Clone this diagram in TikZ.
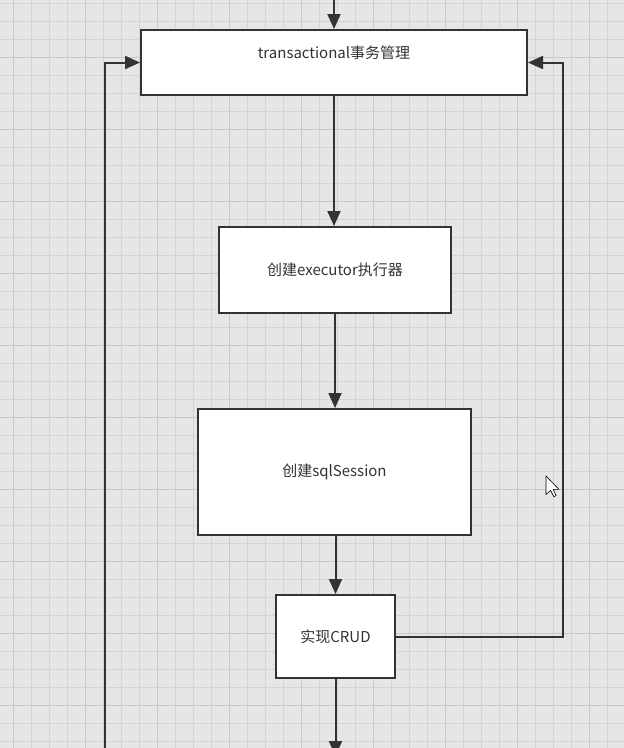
\documentclass[tikz,border=0pt]{standalone}
\usepackage{fontspec}
\setmainfont{Noto Sans CJK SC}
\usetikzlibrary{arrows.meta}
\definecolor{bg}{HTML}{E6E6E6}
\definecolor{gminor}{HTML}{D4D4D4}
\definecolor{gmajor}{HTML}{C8C8C8}
\definecolor{ink}{HTML}{333333}
\tikzset{
  box/.style={draw=ink, line width=2pt, fill=white, inner sep=0pt},
  lbl/.style={text=ink, font=\fontsize{15}{17}\selectfont, inner sep=0pt},
  arr/.style={draw=ink, line width=2pt, -{Triangle[length=15pt,width=13pt]}},
}
\begin{document}
\begin{tikzpicture}[x=1pt,y=-1pt]
\useasboundingbox (0,0) rectangle (624,748);
\clip (0,0) rectangle (624,748);
\fill[bg] (0,0) rectangle (624,748);
% grid
\foreach \i in {0,...,35} {
  \draw[gminor, line width=0.8pt] ({-4.5+18*\i},0) -- ({-4.5+18*\i},748);
}
\foreach \i in {0,...,42} {
  \draw[gminor, line width=0.8pt] (0,{3+18*\i}) -- (624,{3+18*\i});
}
\foreach \i in {0,...,8} {
  \draw[gmajor, line width=1pt] ({13.5+72*\i},0) -- ({13.5+72*\i},748);
}
\foreach \i in {0,...,10} {
  \draw[gmajor, line width=1pt] (0,{57+72*\i}) -- (624,{57+72*\i});
}
% boxes
\node[box, minimum width=386pt, minimum height=65pt] (a) at (334,62.5) {};
\node[lbl] (at) at (334,53) {transactional事务管理};
\node[box, minimum width=232pt, minimum height=86pt] (b) at (335,270) {};
\node[lbl] (bt) at (335,270) {创建executor执行器};
\node[box, minimum width=273pt, minimum height=126pt] (c) at (334.5,472) {};
\node[lbl] (ct) at (334.5,472) {创建sqlSession};
\node[box, minimum width=119pt, minimum height=83pt] (d) at (335.5,636.5) {};
\node[lbl] (dt) at (335.5,637) {实现CRUD};
% free ends
\coordinate (top) at (334,-10);
\coordinate (bot) at (335.5,756);
\coordinate (rx) at (563,0);
\coordinate (lb) at (105,770);
% connectors
\draw[arr] (top) -- (a.north);
\draw[arr] (a.south) -- (a.south |- b.north);
\draw[arr] (b.south) -- (b.south |- c.north);
\draw[arr] (c.south -| d.north) -- (d.north);
\draw[arr] (d.south) -- (bot);
\draw[arr] (d.east) -- (d.east -| rx) |- (a.east);
\draw[arr] (lb) |- (a.west);
% mouse cursor
\begin{scope}[shift={(546,476)}, scale=1.15]
\filldraw[fill=white, draw=black, line width=0.6pt, line join=miter]
  (0,0) -- (0,16) -- (4,12.5) -- (6.8,18) -- (8.8,17) -- (6.2,11.6) -- (11.2,11.6) -- cycle;
\end{scope}
\end{tikzpicture}
\end{document}
